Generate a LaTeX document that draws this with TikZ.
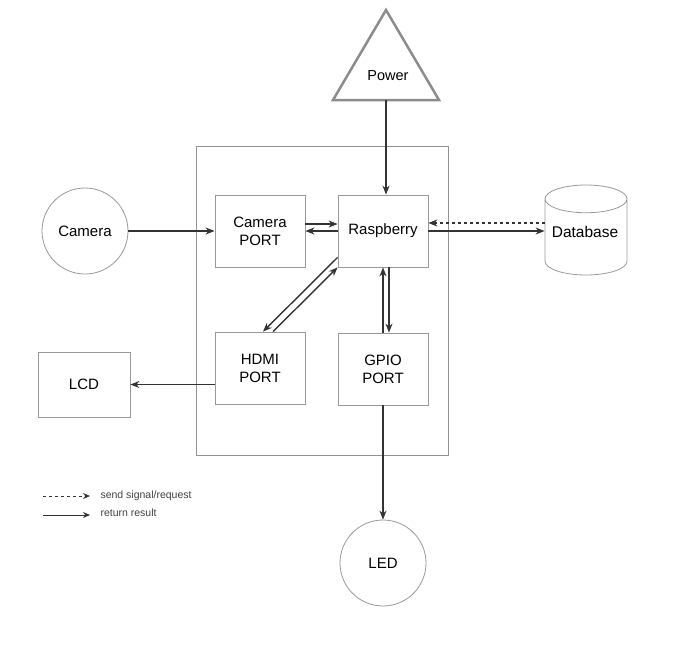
\documentclass[tikz,border=0pt]{standalone}
\usepackage{fontspec}
\setmainfont{Liberation Sans}
\usetikzlibrary{shapes.geometric,arrows.meta}
\begin{document}
\begin{tikzpicture}[x=1pt,y=-1pt,
  box/.style={draw=gray!80,line width=0.8pt,minimum width=90pt,minimum height=72pt,align=center,font=\fontsize{15}{18}\selectfont},
  round/.style={draw=gray!80,line width=0.8pt,circle,minimum size=86pt,font=\fontsize{15}{18}\selectfont},
  conn/.style={draw=black!80,line width=1.4pt,-{Stealth[length=9pt,width=7pt]}},
  back/.style={conn,dashed},
  legtext/.style={anchor=west,font=\fontsize{10.5}{12}\selectfont,text=black!75}]
\useasboundingbox (0,0) rectangle (680,656);
\draw[gray!85,line width=0.8pt] (196,146) rectangle (448,455);
\draw[gray!90,line width=2.5pt,line join=miter] (386,10) -- (439,100) -- (333,100) -- cycle;
\node[font=\fontsize{14.5}{17}\selectfont] (power) at (388,76) {Power};
\coordinate (powerbase) at (386,100);
\node[round] (camera) at (85,231) {Camera};
\node[box] (camport) at (260,231) {Camera\\PORT};
\node[box] (rasp) at (383,231) {Raspberry};
\node[box] (hdmi) at (260,368) {HDMI\\PORT};
\node[box] (gpio) at (383,369) {GPIO\\PORT};
\node[box,minimum width=92pt,minimum height=65pt] (lcd) at (84,384.5) {LCD};
\node[round] (led) at (383,563) {LED};
\node[draw=gray!80,line width=0.8pt,cylinder,shape border rotate=90,aspect=0.38,minimum width=82pt,minimum height=90pt,anchor=shape center,font=\fontsize{15.5}{18}\selectfont] (db) at (586,230) {\phantom{Database}};
\node[font=\fontsize{15.5}{18}\selectfont] (dbtext) at (585,232) {Database};
% links
\draw[conn,line width=2.3pt] (powerbase) -- (powerbase |- rasp.north);
\draw[conn] (camera.east) -- (camport.west);
\draw[conn] ([yshift=7pt]camport.east) -- ([yshift=7pt]rasp.west);
\draw[conn] (rasp.west) -- (camport.east);
\draw[conn] (rasp.east) -- (rasp.east -| db.west);
\draw[back] (db.west |- {(0,223)}) -- ([yshift=8pt]rasp.east);
\draw[conn] ([yshift=10pt]rasp.south west) -- ([xshift=3pt]hdmi.north);
\draw[conn] ([xshift=13pt]hdmi.north) -- (rasp.south west);
\draw[conn] (gpio.north) -- (rasp.south);
\draw[conn] ([xshift=6pt]rasp.south) -- ([xshift=6pt]gpio.north);
\draw[conn] (hdmi.west |- lcd.east) -- (lcd.east);
\draw[conn] (gpio.south) -- (led.north);
% legend
\coordinate (leg1a) at (43,496);
\coordinate (leg1b) at (90,496);
\coordinate (leg2a) at (43,515);
\coordinate (leg2b) at (90,515);
\draw[back,line width=1pt,-{Stealth[length=7pt,width=6pt]}] (leg1a) -- (leg1b);
\draw[conn,line width=1pt,-{Stealth[length=7pt,width=6pt]}] (leg2a) -- (leg2b);
\node[legtext] (legsend) at (97,496) {send signal/request};
\node[legtext] (legret) at (97,513) {return result};
\end{tikzpicture}
\end{document}
